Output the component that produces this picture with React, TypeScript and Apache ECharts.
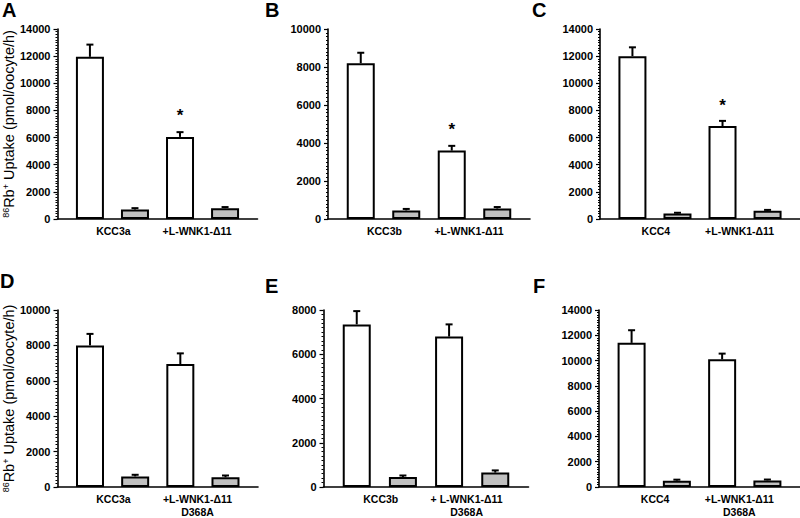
import React, { useEffect, useRef } from "react";
import * as echarts from "echarts";

// ---- data ----
const panelLetters = ["A", "B", "C", "D", "E", "F"];
const groupLabels = [
  ["KCC3a", "+L-WNK1-Δ11"],
  ["KCC3b", "+L-WNK1-Δ11"],
  ["KCC4", "+L-WNK1-Δ11"],
  ["KCC3a", "+L-WNK1-Δ11\nD368A"],
  ["KCC3b", "+ L-WNK1-Δ11\nD368A"],
  ["KCC4", "+L-WNK1-Δ11\nD368A"],
];
const yMaxes = [14000, 10000, 14000, 10000, 8000, 14000];
const yTickStep = 2000;

const valuesA = [11950, 700, 6050, 800];
const errorsA = [900, 100, 350, 80];
const starsA = [0, 0, 1, 0];

const valuesB = [8200, 450, 3600, 550];
const errorsB = [550, 80, 250, 80];
const starsB = [0, 0, 1, 0];

const valuesC = [12000, 400, 6850, 600];
const errorsC = [650, 60, 380, 70];
const starsC = [0, 0, 1, 0];

const valuesD = [8000, 600, 6950, 550];
const errorsD = [650, 90, 600, 100];
const starsD = [0, 0, 0, 0];

const valuesE = [7350, 450, 6800, 650];
const errorsE = [600, 70, 550, 100];
const starsE = [0, 0, 0, 0];

const valuesF = [11400, 500, 10100, 520];
const errorsF = [1000, 80, 450, 70];
const starsF = [0, 0, 0, 0];

const panelValues = [valuesA, valuesB, valuesC, valuesD, valuesE, valuesF];
const panelErrors = [errorsA, errorsB, errorsC, errorsD, errorsE, errorsF];
const panelStars = [starsA, starsB, starsC, starsD, starsE, starsF];

// ---- layout / style ----
const FONT = "'Liberation Sans', Arial, Helvetica, sans-serif";
const grids = [
  { left: 55.5, top: 29, width: 202, height: 190 },
  { left: 328, top: 29, width: 202, height: 190 },
  { left: 600, top: 29, width: 202, height: 190 },
  { left: 56, top: 310, width: 202, height: 179 },
  { left: 323.5, top: 310, width: 205, height: 179 },
  { left: 599, top: 310, width: 202, height: 178.5 },
];
const letterPos = [
  { left: 2, top: 0 },
  { left: 265, top: 0 },
  { left: 532, top: 0 },
  { left: 0, top: 271 },
  { left: 265, top: 276 },
  { left: 533, top: 276 },
];
const X_MIN = -0.72;
const X_MAX = 3.72;
const labelSpots = [0.52, 2.38];
const fills = ["#ffffff", "#c0c0c0"];

function buildOption() {
  const grid: any[] = [];
  const xAxis: any[] = [];
  const yAxis: any[] = [];
  const series: any[] = [];
  const title: any[] = [];

  panelValues.forEach((vals, p) => {
    grid.push({ ...grids[p], containLabel: false });
    title.push({
      text: panelLetters[p],
      left: letterPos[p].left,
      top: letterPos[p].top,
      padding: 0,
      textStyle: { fontFamily: FONT, fontSize: 20, fontWeight: "bold", color: "#000" },
    });
    // bar axis
    xAxis.push({
      type: "value",
      gridIndex: p,
      min: X_MIN,
      max: X_MAX,
      position: "bottom",
      axisLine: { show: true, onZero: false, lineStyle: { color: "#000", width: 1.6 } },
      axisTick: { show: false },
      axisLabel: { show: false },
      splitLine: { show: false },
    });
    // label axis
    const labels = groupLabels[p];
    xAxis.push({
      type: "value",
      gridIndex: p,
      min: X_MIN,
      max: X_MAX,
      position: "bottom",
      axisLine: { show: false, onZero: false },
      axisTick: { show: false },
      splitLine: { show: false },
      axisLabel: {
        show: true,
        customValues: labelSpots,
        margin: 6,
        formatter: (v: number) => (v < 1.5 ? labels[0] : labels[1]),
        fontFamily: FONT,
        fontSize: 10.5,
        fontWeight: "bold",
        color: "#000",
        lineHeight: 12.5,
      },
    });
    const showName = p === 0 || p === 3;
    yAxis.push({
      type: "value",
      gridIndex: p,
      min: 0,
      max: yMaxes[p],
      interval: yTickStep,
      name: showName ? "{sup|86}Rb{sup|+} Uptake (pmol/oocyte/h)" : "",
      nameLocation: "middle",
      nameRotate: 90,
      nameGap: 30,
      nameTextStyle: {
        fontFamily: FONT,
        fontSize: 14.5,
        color: "#000",
        rich: {
          sup: { fontFamily: FONT, fontSize: 9, color: "#000", verticalAlign: "top", padding: [0, 0, 6, 0] },
        },
      },
      axisLine: { show: true, onZero: false, lineStyle: { color: "#000", width: 1.6 } },
      axisTick: { show: true, inside: false, length: 4, lineStyle: { color: "#000", width: 1.2 } },
      minorTick: { show: true, splitNumber: 10, length: 2, lineStyle: { color: "#000", width: 1 } },
      axisLabel: {
        margin: 7,
        fontFamily: FONT,
        fontSize: 11,
        fontWeight: "bold",
        color: "#000",
        formatter: (v: number) => String(v),
      },
      splitLine: { show: false },
      minorSplitLine: { show: false },
    });

    series.push({
      type: "bar",
      xAxisIndex: p * 2,
      yAxisIndex: p,
      barWidth: 28,
      data: vals.map((v, i) => ({
        value: [i, v],
        itemStyle: { color: fills[i % 2], borderColor: "#000", borderWidth: 2 },
      })),
    });

    const errs = panelErrors[p];
    const stars = panelStars[p];
    series.push({
      type: "custom",
      xAxisIndex: p * 2,
      yAxisIndex: p,
      clip: false,
      z: 5,
      encode: { x: 0, y: 1 },
      data: vals.map((v, i) => [i, v, errs[i], stars[i]]),
      renderItem: (params: any, api: any) => {
        const x = api.value(0);
        const v = api.value(1);
        const e = api.value(2);
        const s = api.value(3);
        const p0 = api.coord([x, v]);
        const p1 = api.coord([x, v + e]);
        const children: any[] = [
          {
            type: "line",
            shape: { x1: p0[0], y1: p0[1], x2: p1[0], y2: p1[1] },
            style: { stroke: "#000", lineWidth: 2 },
          },
          {
            type: "line",
            shape: { x1: p1[0] - 3.5, y1: p1[1], x2: p1[0] + 3.5, y2: p1[1] },
            style: { stroke: "#000", lineWidth: 2 },
          },
        ];
        if (s) {
          children.push({
            type: "text",
            x: p0[0],
            y: p0[1] - 21,
            style: {
              text: "*",
              fontFamily: FONT,
              fontSize: 17,
              fontWeight: "bold",
              fill: "#000",
              align: "center",
              verticalAlign: "middle",
            },
          });
        }
        return { type: "group", children };
      },
    });
  });

  return {
    animation: false,
    backgroundColor: "#ffffff",
    title,
    grid,
    xAxis,
    yAxis,
    series,
  };
}

export default function App() {
  const ref = useRef<HTMLDivElement>(null);
  useEffect(() => {
    if (!ref.current) return;
    const chart = echarts.init(ref.current, undefined, { renderer: "svg" });
    chart.setOption(buildOption());
    return () => chart.dispose();
  }, []);
  return (
    <div
      ref={ref}
      style={{ position: "absolute", left: 0, top: 0, width: 800, height: 518, background: "#fff" }}
    />
  );
}
